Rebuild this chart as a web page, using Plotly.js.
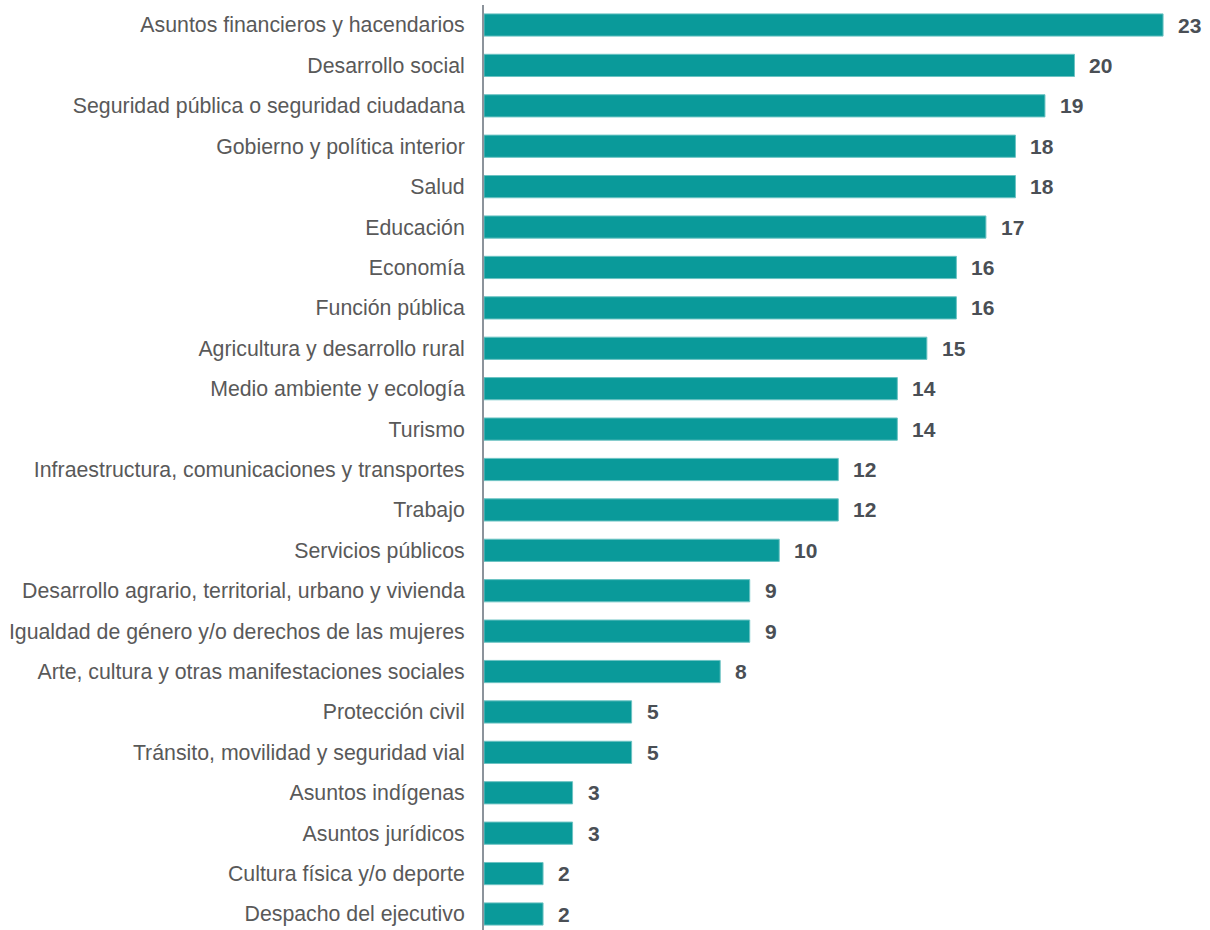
<!DOCTYPE html>
<html>
<head>
<meta charset="utf-8">
<script src="https://cdn.plot.ly/plotly-3.0.1.min.js"></script>
<style>html,body{margin:0;padding:0;background:#fff;}#chart{width:1210px;height:930px;}</style>
</head>
<body>
<div id="chart"></div>
<script>
const categories = [
  "Asuntos financieros y hacendarios",
  "Desarrollo social",
  "Seguridad pública o seguridad ciudadana",
  "Gobierno y política interior",
  "Salud",
  "Educación",
  "Economía",
  "Función pública",
  "Agricultura y desarrollo rural",
  "Medio ambiente y ecología",
  "Turismo",
  "Infraestructura, comunicaciones y transportes",
  "Trabajo",
  "Servicios públicos",
  "Desarrollo agrario, territorial, urbano y vivienda",
  "Igualdad de género y/o derechos de las mujeres",
  "Arte, cultura y otras manifestaciones sociales",
  "Protección civil",
  "Tránsito, movilidad y seguridad vial",
  "Asuntos indígenas",
  "Asuntos jurídicos",
  "Cultura física y/o deporte",
  "Despacho del ejecutivo"
];
const values = [23, 20, 19, 18, 18, 17, 16, 16, 15, 14, 14, 12, 12, 10, 9, 9, 8, 5, 5, 3, 3, 2, 2];

const trace = {
  type: 'bar',
  orientation: 'h',
  x: values,
  y: categories,
  width: 0.55,
  marker: {color: '#0A9A9A', line: {color: '#6cc3c3', width: 1}},
  hoverinfo: 'none'
};

const annotations = values.map((v, i) => ({
  x: v, y: categories[i], xref: 'x', yref: 'y',
  text: '<b>' + v + '</b>', showarrow: false,
  xanchor: 'left', xshift: 13,
  font: {family: 'Liberation Sans, Arial, sans-serif', size: 21, color: '#4a4f55'}
}));

const layout = {
  width: 1210, height: 930,
  margin: {l: 484, r: 0, t: 5, b: 0},
  paper_bgcolor: '#fff', plot_bgcolor: '#fff',
  showlegend: false,
  font: {family: 'Liberation Sans, Arial, sans-serif', size: 21, color: '#595959'},
  xaxis: {range: [0, 24.59], visible: false, showgrid: false, zeroline: false, fixedrange: true},
  yaxis: {
    type: 'category',
    range: [22.396, -0.495],
    showline: true, linecolor: '#8c939b', linewidth: 2,
    showgrid: false, zeroline: false,
    ticks: 'outside', ticklen: 13, tickcolor: 'rgba(0,0,0,0)',
    tickfont: {family: 'Liberation Sans, Arial, sans-serif', size: 21.3, color: '#595959'},
    fixedrange: true
  },
  annotations: annotations
};

Plotly.newPlot('chart', [trace], layout, {displayModeBar: false, staticPlot: true});
</script>
</body>
</html>
